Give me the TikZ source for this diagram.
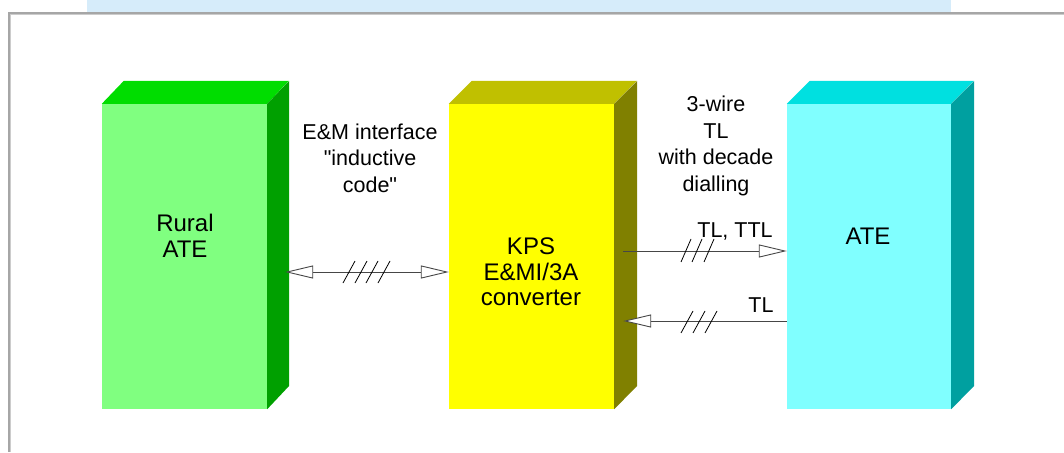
\documentclass[tikz,border=0pt]{standalone}
\usepackage{fontspec}
\setmainfont{Liberation Sans}
\newfontfamily\plainsans{Liberation Sans}
\usetikzlibrary{arrows.meta,calc}
\definecolor{gFront}{RGB}{128,255,128}
\definecolor{gTop}{RGB}{0,221,0}
\definecolor{gSide}{RGB}{0,160,0}
\definecolor{yFront}{RGB}{255,255,0}
\definecolor{yTop}{RGB}{192,192,0}
\definecolor{ySide}{RGB}{128,128,0}
\definecolor{cFront}{RGB}{128,255,255}
\definecolor{cTop}{RGB}{0,224,224}
\definecolor{cSide}{RGB}{0,160,160}
\definecolor{band}{RGB}{214,236,250}
\definecolor{lineg}{RGB}{70,70,70}
\tikzset{
  front/.style={draw=none, inner sep=0pt, minimum height=305pt},
  boxtext/.style={font=\fontsize{24}{25.5}\selectfont, align=center, inner sep=0pt},
  note/.style={font=\plainsans\fontsize{21.5}{26.5}\selectfont, align=center, inner sep=0pt},
  link/.style={draw=lineg, line width=0.9pt, -{Triangle[open, length=28pt, width=13pt, fill=white]}},
  dlink/.style={draw=lineg, line width=0.9pt, {Triangle[open, length=28pt, width=13pt, fill=white]}-{Triangle[open, length=28pt, width=13pt, fill=white]}},
  slash/.style={draw=black, line width=0.8pt}
}
\begin{document}
\begin{tikzpicture}[x=1pt,y=-1pt]
\useasboundingbox (0,0) rectangle (1064,452);
% background band and frame
\fill[band] (87,0) rectangle (951,12);
\draw[gray!70, line width=1.6pt] (9,452) -- (9,13) -- (1064,13);
\draw[gray!40, line width=0.6pt] (10.2,452) -- (10.2,14.2) -- (1064,14.2);
% boxes
\node[front, fill=gFront, minimum width=165pt] (rural) at (184.5,256.5) {};
\fill[gTop] (rural.north west) -- ++(22,-23) -- ++(165,0) -- (rural.north east) -- cycle;
\fill[gSide] (rural.north east) -- ++(22,-23) -- ++(0,305) -- (rural.south east) -- cycle;
\node[front, fill=yFront, minimum width=165pt] (kps) at (531.5,256.5) {};
\fill[yTop] (kps.north west) -- ++(23,-23) -- ++(165,0) -- (kps.north east) -- cycle;
\fill[ySide] (kps.north east) -- ++(23,-23) -- ++(0,305) -- (kps.south east) -- cycle;
\node[front, fill=cFront, minimum width=164pt] (ate) at (869,256.5) {};
\fill[cTop] (ate.north west) -- ++(23,-23) -- ++(164,0) -- (ate.north east) -- cycle;
\fill[cSide] (ate.north east) -- ++(23,-23) -- ++(0,305) -- (ate.south east) -- cycle;
% box labels
\node[boxtext] (ruraltxt) at (185,236) {Rural\\ATE};
\node[boxtext] (kpstxt) at (531,272) {KPS\\E\&MI/3A\\converter};
\node[boxtext] (atetxt) at (868,236) {ATE};
% notes
\node[note] (em) at (370,158) {E\&M interface\\"inductive\\code"};
\node[note] (wire) at (716,146) {3-wire\\TL\\with decade\\dialling};
\node[note] (tlttl) at (735,231) {TL, TTL};
\node[note] (tl) at (761,305) {TL};
% connectors
\draw[dlink] ($(rural.east)+(18,15.5)$) -- ($(kps.west)+(0,15.5)$);
\draw[link] ($(kps.east)+(9,-5.5)$) -- ($(ate.west)+(0,-5.5)$);
\draw[link] ($(ate.west)+(0,64.5)$) -- ($(kps.east)+(9,64.5)$);
% slashes
\foreach \x in {349,361,372,384} \draw[slash] (\x-6,283) -- (\x+6,261);
\foreach \x in {686,697,709} \draw[slash] (\x-5,262) -- (\x+5,239);
\foreach \x in {687,699,711} \draw[slash] (\x-6,333) -- (\x+6,311);
\end{tikzpicture}
\end{document}
